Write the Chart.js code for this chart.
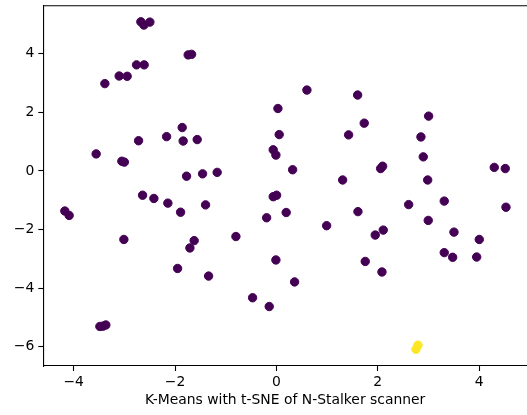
<!DOCTYPE html>
<html>
<head>
<meta charset="utf-8">
<script src="https://cdn.jsdelivr.net/npm/chart.js@4.4.1/dist/chart.umd.min.js"></script>
<style>
  html, body { margin: 0; padding: 0; background: #fff; overflow: hidden; }
  #wrap { width: 527px; height: 415px; }
</style>
</head>
<body>
<div id="wrap"><canvas id="c" width="527" height="415"></canvas></div>
<script>
// t-SNE embedding coordinates of the scan results
const tsneX = [
  -2.675, -2.615, -2.497, -1.741, -1.674, -2.760, -2.610, -3.103, -2.945, -3.385,
   0.602,  1.603,  0.030,  3.004,  1.733, -1.859,  0.055,  1.425,  2.852, -2.167,
  -2.720, -1.840, -1.563, -3.557, -3.050, -3.000, -0.063, -0.010,  2.898,  0.320,
   1.307,  2.057,  2.096,  2.985,  4.299,  4.516, -1.773, -1.457, -1.169, -2.641,
  -2.418, -2.142, -1.891, -1.398, -4.175, -4.090, -0.063,  0.004, -0.193,  0.193,
   0.991,  1.609,  2.610,  3.312,  4.530,  2.996, -3.010, -1.623, -1.707, -0.799,
   1.950,  2.108,  3.504,  4.003, -1.950, -1.338, -0.010,  1.753,  2.083,  3.312,
   3.478,  3.952,  0.359, -0.470, -0.142, -3.484, -3.425, -3.366,
   2.754,  2.793
];
const tsneY = [
   5.09,  4.98,  5.08,  3.96,  3.98,  3.62,  3.62,  3.24,  3.23,  2.98,
   2.76,  2.59,  2.13,  1.87,  1.63,  1.48,  1.24,  1.23,  1.16,  1.17,
   1.03,  1.02,  1.07,  0.58,  0.33,  0.30,  0.72,  0.54,  0.48,  0.04,
  -0.31,  0.08,  0.16, -0.31,  0.12,  0.08, -0.18, -0.10, -0.05, -0.83,
  -0.94, -1.10, -1.41, -1.16, -1.37, -1.52, -0.88, -0.83, -1.60, -1.42,
  -1.87, -1.39, -1.15, -1.03, -1.24, -1.69, -2.34, -2.38, -2.63, -2.24,
  -2.19, -2.02, -2.09, -2.34, -3.33, -3.59, -3.04, -3.09, -3.45, -2.79,
  -2.95, -2.94, -3.79, -4.33, -4.63, -5.31, -5.30, -5.26,
  -6.09, -5.95
];
// K-Means cluster assignment for each point
const clusterIds = [
  0,0,0,0,0,0,0,0,0,0, 0,0,0,0,0,0,0,0,0,0,
  0,0,0,0,0,0,0,0,0,0, 0,0,0,0,0,0,0,0,0,0,
  0,0,0,0,0,0,0,0,0,0, 0,0,0,0,0,0,0,0,0,0,
  0,0,0,0,0,0,0,0,0,0, 0,0,0,0,0,0,0,0,
  1,1
];
const clusterColors = ['#440154', '#fde725'];
const xTicks = [-4, -2, 0, 2, 4];
const yTicks = [-6, -4, -2, 0, 2, 4];
const xLabel = 'K-Means with t-SNE of N-Stalker scanner';

const FONT = { family: 'DejaVu Sans', size: 13.9 };

const datasets = clusterColors.map((color, k) => ({
  label: 'cluster ' + k,
  data: tsneX.map((x, i) => ({ x, y: tsneY[i], c: clusterIds[i] }))
             .filter(p => p.c === k)
             .map(p => ({ x: p.x, y: p.y })),
  backgroundColor: color,
  borderColor: color,
  pointRadius: 4.2,
  pointBorderWidth: 1,
  pointHoverRadius: 4.2
}));

const fmt = v => (v < 0 ? '\u2212' + Math.abs(v) : String(v));

// top spine of the axes box
const topSpine = {
  id: 'topSpine',
  afterDraw(chart) {
    const { ctx, chartArea } = chart;
    ctx.save();
    ctx.strokeStyle = '#000';
    ctx.lineWidth = 1.1;
    ctx.beginPath();
    ctx.moveTo(chartArea.left, chartArea.top);
    ctx.lineTo(chartArea.right + 2, chartArea.top);
    ctx.stroke();
    ctx.restore();
  }
};

new Chart(document.getElementById('c'), {
  type: 'scatter',
  data: { datasets },
  plugins: [topSpine],
  options: {
    responsive: false,
    animation: false,
    events: [],
    layout: { autoPadding: false, padding: { top: 5.7, left: 0, right: 0, bottom: 2 } },
    plugins: { legend: { display: false }, tooltip: { enabled: false } },
    scales: {
      x: {
        type: 'linear',
        min: -4.6,
        max: 4.945,
        afterBuildTicks: s => { s.ticks = xTicks.map(v => ({ value: v })); },
        afterFit: s => { s.height = 47; s.paddingLeft = 0; s.paddingRight = 0; },
        ticks: { color: '#000', font: FONT, padding: 3, maxRotation: 0, callback: fmt },
        grid: { drawOnChartArea: false, drawTicks: true, tickLength: 5, tickColor: '#000', tickWidth: 1.1 },
        border: { display: true, color: '#000', width: 1.1 },
        title: { display: true, text: xLabel, color: '#000', font: FONT, padding: { top: 2, bottom: 4 } }
      },
      y: {
        type: 'linear',
        min: -6.66,
        max: 5.64,
        afterBuildTicks: s => { s.ticks = yTicks.map(v => ({ value: v })); },
        afterFit: s => { s.width = 43.3; s.paddingTop = 0; s.paddingBottom = 0; },
        ticks: { color: '#000', font: FONT, padding: 4, callback: fmt },
        grid: { drawOnChartArea: false, drawTicks: true, tickLength: 5, tickColor: '#000', tickWidth: 1.1 },
        border: { display: true, color: '#000', width: 1.1 }
      }
    }
  }
});
</script>
</body>
</html>
